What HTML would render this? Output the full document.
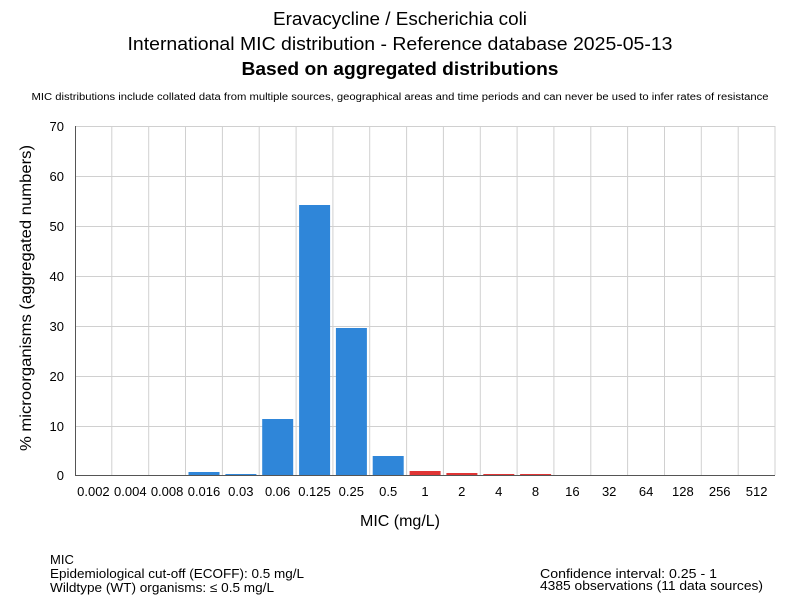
<!DOCTYPE html>
<html><head><meta charset="utf-8"><style>
body{margin:0;background:#fff;}
svg text{font-family:"Liberation Sans","DejaVu Sans",sans-serif;fill:#000;}
</style></head><body>
<svg width="800" height="600" xmlns="http://www.w3.org/2000/svg">
<rect width="800" height="600" fill="#fff"/>
<text x="400" y="25" font-size="18" text-anchor="middle" textLength="254" lengthAdjust="spacingAndGlyphs">Eravacycline / Escherichia coli</text>
<text x="400" y="50" font-size="18" text-anchor="middle" textLength="545" lengthAdjust="spacingAndGlyphs">International MIC distribution - Reference database 2025-05-13</text>
<text x="400" y="75" font-size="18" font-weight="bold" text-anchor="middle" textLength="317" lengthAdjust="spacingAndGlyphs">Based on aggregated distributions</text>
<text x="400" y="100" font-size="10" text-anchor="middle" textLength="737" lengthAdjust="spacingAndGlyphs">MIC distributions include collated data from multiple sources, geographical areas and time periods and can never be used to infer rates of resistance</text>
<g stroke="#d0d0d0" stroke-width="1">
<line x1="75" x2="775" y1="126.5" y2="126.5"/>
<line x1="75" x2="775" y1="176.5" y2="176.5"/>
<line x1="75" x2="775" y1="226.5" y2="226.5"/>
<line x1="75" x2="775" y1="276.5" y2="276.5"/>
<line x1="75" x2="775" y1="326.5" y2="326.5"/>
<line x1="75" x2="775" y1="376.5" y2="376.5"/>
<line x1="75" x2="775" y1="426.5" y2="426.5"/>
<line x1="111.8" x2="111.8" y1="126" y2="475"/><line x1="148.7" x2="148.7" y1="126" y2="475"/>
<line x1="185.5" x2="185.5" y1="126" y2="475"/><line x1="222.4" x2="222.4" y1="126" y2="475"/>
<line x1="259.2" x2="259.2" y1="126" y2="475"/><line x1="296.1" x2="296.1" y1="126" y2="475"/>
<line x1="332.9" x2="332.9" y1="126" y2="475"/><line x1="369.7" x2="369.7" y1="126" y2="475"/>
<line x1="406.6" x2="406.6" y1="126" y2="475"/><line x1="443.4" x2="443.4" y1="126" y2="475"/>
<line x1="480.3" x2="480.3" y1="126" y2="475"/><line x1="517.1" x2="517.1" y1="126" y2="475"/>
<line x1="553.9" x2="553.9" y1="126" y2="475"/><line x1="590.8" x2="590.8" y1="126" y2="475"/>
<line x1="627.6" x2="627.6" y1="126" y2="475"/><line x1="664.5" x2="664.5" y1="126" y2="475"/>
<line x1="701.3" x2="701.3" y1="126" y2="475"/><line x1="738.2" x2="738.2" y1="126" y2="475"/>
<line x1="775" x2="775" y1="126" y2="475"/>
</g>
<g fill="#2f86d9">
<rect x="188.5" y="472" width="31" height="3"/>
<rect x="225.4" y="474" width="31" height="1"/>
<rect x="262.2" y="419" width="31" height="56"/>
<rect x="299.1" y="205" width="31" height="270"/>
<rect x="335.9" y="328" width="31" height="147"/>
<rect x="372.7" y="456" width="31" height="19"/>
</g>
<g fill="#e03535">
<rect x="409.6" y="471" width="31" height="4"/>
<rect x="446.4" y="473" width="31" height="2"/>
<rect x="483.3" y="474" width="31" height="1"/>
<rect x="520.1" y="474" width="31" height="1"/>
</g>
<line x1="75.5" x2="75.5" y1="126" y2="475" stroke="#555"/>
<line x1="75" x2="775" y1="475.5" y2="475.5" stroke="#555"/>
<g font-size="13" text-anchor="end">
<text x="64" y="131">70</text><text x="64" y="181">60</text><text x="64" y="231">50</text>
<text x="64" y="281">40</text><text x="64" y="331">30</text><text x="64" y="381">20</text>
<text x="64" y="431">10</text><text x="64" y="480">0</text>
</g>
<g font-size="13" text-anchor="middle">
<text x="93.4" y="496">0.002</text><text x="130.3" y="496">0.004</text><text x="167.1" y="496">0.008</text>
<text x="204" y="496">0.016</text><text x="240.8" y="496">0.03</text><text x="277.6" y="496">0.06</text>
<text x="314.5" y="496">0.125</text><text x="351.3" y="496">0.25</text><text x="388.2" y="496">0.5</text>
<text x="425" y="496">1</text><text x="461.8" y="496">2</text><text x="498.7" y="496">4</text>
<text x="535.5" y="496">8</text><text x="572.4" y="496">16</text><text x="609.2" y="496">32</text>
<text x="646.1" y="496">64</text><text x="682.9" y="496">128</text><text x="719.7" y="496">256</text>
<text x="756.6" y="496">512</text>
</g>
<text x="400" y="526" font-size="16" text-anchor="middle">MIC (mg/L)</text>
<text transform="translate(31,298) rotate(-90)" font-size="16" text-anchor="middle" textLength="306" lengthAdjust="spacingAndGlyphs">% microorganisms (aggregated numbers)</text>
<g font-size="13">
<text x="50" y="564">MIC</text>
<text x="50" y="578" textLength="254" lengthAdjust="spacingAndGlyphs">Epidemiological cut-off (ECOFF): 0.5 mg/L</text>
<text x="50" y="592" textLength="224" lengthAdjust="spacingAndGlyphs">Wildtype (WT) organisms: ≤ 0.5 mg/L</text>
<text x="540" y="578" textLength="177" lengthAdjust="spacingAndGlyphs">Confidence interval: 0.25 - 1</text>
<text x="540" y="590" textLength="223" lengthAdjust="spacingAndGlyphs">4385 observations (11 data sources)</text>
</g>
</svg>
</body></html>
